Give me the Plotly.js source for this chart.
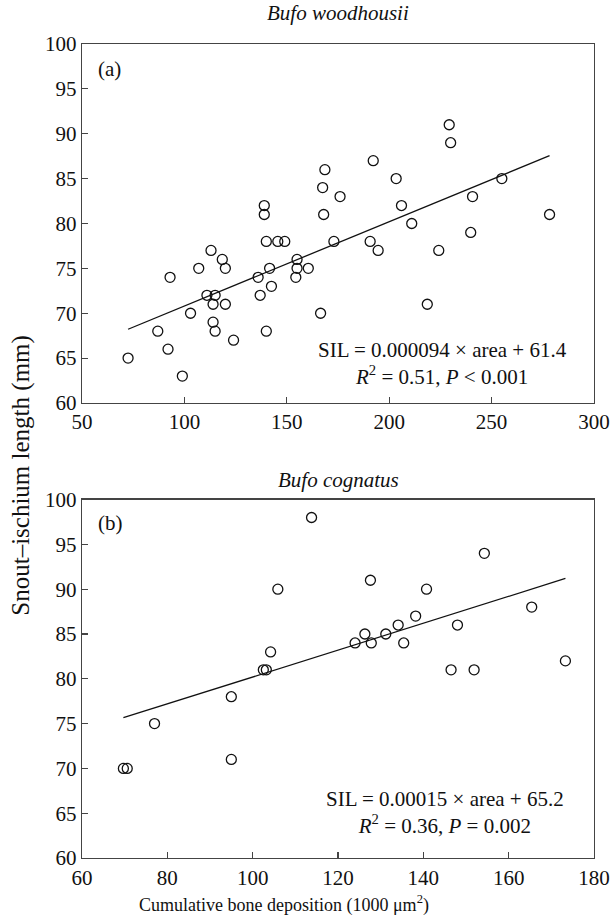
<!DOCTYPE html>
<html>
<head>
<meta charset="utf-8">
<script src="https://cdn.plot.ly/plotly-3.0.1.min.js"></script>
<style>html,body{margin:0;padding:0;background:#fff;}#chart{width:614px;height:919px;}</style>
</head>
<body>
<div id="chart"></div>
<script>
// Panel (a): Bufo woodhousii
const woodX = [72.5, 87, 92, 93, 99, 103, 107, 111, 113, 114, 114, 115, 115, 118.5, 120, 120, 124, 136, 137, 139, 139, 140, 140, 141.6, 142.5, 145.6, 149, 155, 155, 154.4, 160.5, 166.5, 168.6, 167.5, 168, 173, 176, 190.7, 192.2, 194.6, 203.4, 206, 211, 218.6, 224.2, 229.3, 230, 239.8, 240.7, 255, 278.3];
const woodY = [65, 68, 66, 74, 63, 70, 75, 72, 77, 69, 71, 72, 68, 76, 75, 71, 67, 74, 72, 82, 81, 78, 68, 75, 73, 78, 78, 76, 75, 74, 75, 70, 86, 84, 81, 78, 83, 78, 87, 77, 85, 82, 80, 71, 77, 91, 89, 79, 83, 85, 81];
const woodSlope = 0.094, woodIntercept = 61.4;

// Panel (b): Bufo cognatus
const cognX = [69.7, 70.6, 77, 95, 95, 102.5, 103.2, 104.2, 105.9, 113.8, 124, 126.3, 127.6, 127.8, 131.2, 134.1, 135.4, 138.2, 140.75, 146.5, 148, 151.9, 154.3, 165.4, 173.3];
const cognY = [70, 70, 75, 78, 71, 81, 81, 83, 90, 98, 84, 85, 91, 84, 85, 86, 84, 87, 90, 81, 86, 81, 94, 88, 82];
const cognSlope = 0.15, cognIntercept = 65.2;

const titles = ["Bufo woodhousii", "Bufo cognatus"];
const eqA = "SIL = 0.000094 × area + 61.4<br><i>R</i><sup>2</sup> = 0.51, <i>P</i> &lt; 0.001";
const eqB = "SIL = 0.00015 × area + 65.2<br><i>R</i><sup>2</sup> = 0.36, <i>P</i> = 0.002";
const yTitle = "Snout–ischium length (mm)";
const xTitle = "Cumulative bone deposition (1000 μm<sup>2</sup>)";

function fitLine(xs, m, b) {
  const x0 = Math.min(...xs), x1 = Math.max(...xs);
  return {x: [x0, x1], y: [m * x0 + b, m * x1 + b]};
}
const la = fitLine(woodX, woodSlope, woodIntercept);
const lb = fitLine(cognX, cognSlope, cognIntercept);

const ink = '#111';
const mk = {symbol: 'circle-open', size: 10, color: ink, line: {width: 1.3, color: ink}};

const data = [
  {x: la.x, y: la.y, mode: 'lines', line: {color: ink, width: 1.3}, xaxis: 'x', yaxis: 'y', hoverinfo: 'skip'},
  {x: woodX, y: woodY, mode: 'markers', marker: mk, xaxis: 'x', yaxis: 'y'},
  {x: lb.x, y: lb.y, mode: 'lines', line: {color: ink, width: 1.3}, xaxis: 'x2', yaxis: 'y2', hoverinfo: 'skip'},
  {x: cognX, y: cognY, mode: 'markers', marker: mk, xaxis: 'x2', yaxis: 'y2'}
];

const axStyle = {
  showline: true, mirror: true, linecolor: '#444', linewidth: 1.3,
  ticks: 'inside', ticklen: 6, tickwidth: 1.2, tickcolor: '#444',
  showgrid: false, zeroline: false,
  tickfont: {family: 'Liberation Serif', size: 21, color: ink}
};

function ann(text, xref, yref, x, y, size, extra) {
  return Object.assign({text: text, xref: xref, yref: yref, x: x, y: y, xanchor: 'center', yanchor: 'middle',
    showarrow: false, font: {size: size, family: 'Liberation Serif', color: ink}}, extra || {});
}

const layout = {
  width: 614, height: 919,
  margin: {l: 82, r: 20, t: 44, b: 61},
  paper_bgcolor: '#fff', plot_bgcolor: '#fff',
  showlegend: false,
  font: {family: 'Liberation Serif', size: 20, color: ink},
  xaxis: Object.assign({}, axStyle, {range: [50, 300], dtick: 50, tick0: 50, anchor: 'y'}),
  yaxis: Object.assign({}, axStyle, {range: [60, 100], dtick: 5, tick0: 60, anchor: 'x', domain: [0.559, 1]}),
  xaxis2: Object.assign({}, axStyle, {range: [60, 180], dtick: 20, tick0: 60, anchor: 'y2'}),
  yaxis2: Object.assign({}, axStyle, {range: [60, 100], dtick: 5, tick0: 60, anchor: 'x2', domain: [0, 0.4403]}),
  annotations: [
    ann('<i>' + titles[0] + '</i>', 'paper', 'paper', 0.5, 1.038, 21),
    ann('<i>' + titles[1] + '</i>', 'paper', 'paper', 0.5, 0.464, 21),
    ann('(a)', 'x', 'y', 63.3, 97.2, 21),
    ann('(b)', 'x2', 'y2', 66.7, 97.4, 21),
    ann(eqA, 'x', 'y', 226, 64.35, 21),
    ann(eqB, 'x2', 'y2', 145, 65.08, 21),
    ann(yTitle, 'paper', 'paper', -0.1186, 0.47, 25, {textangle: -90}),
    ann(xTitle, 'paper', 'paper', 0.395, -0.057, 18)
  ]
};

Plotly.newPlot('chart', data, layout, {displayModeBar: false, staticPlot: true});
</script>
</body>
</html>
